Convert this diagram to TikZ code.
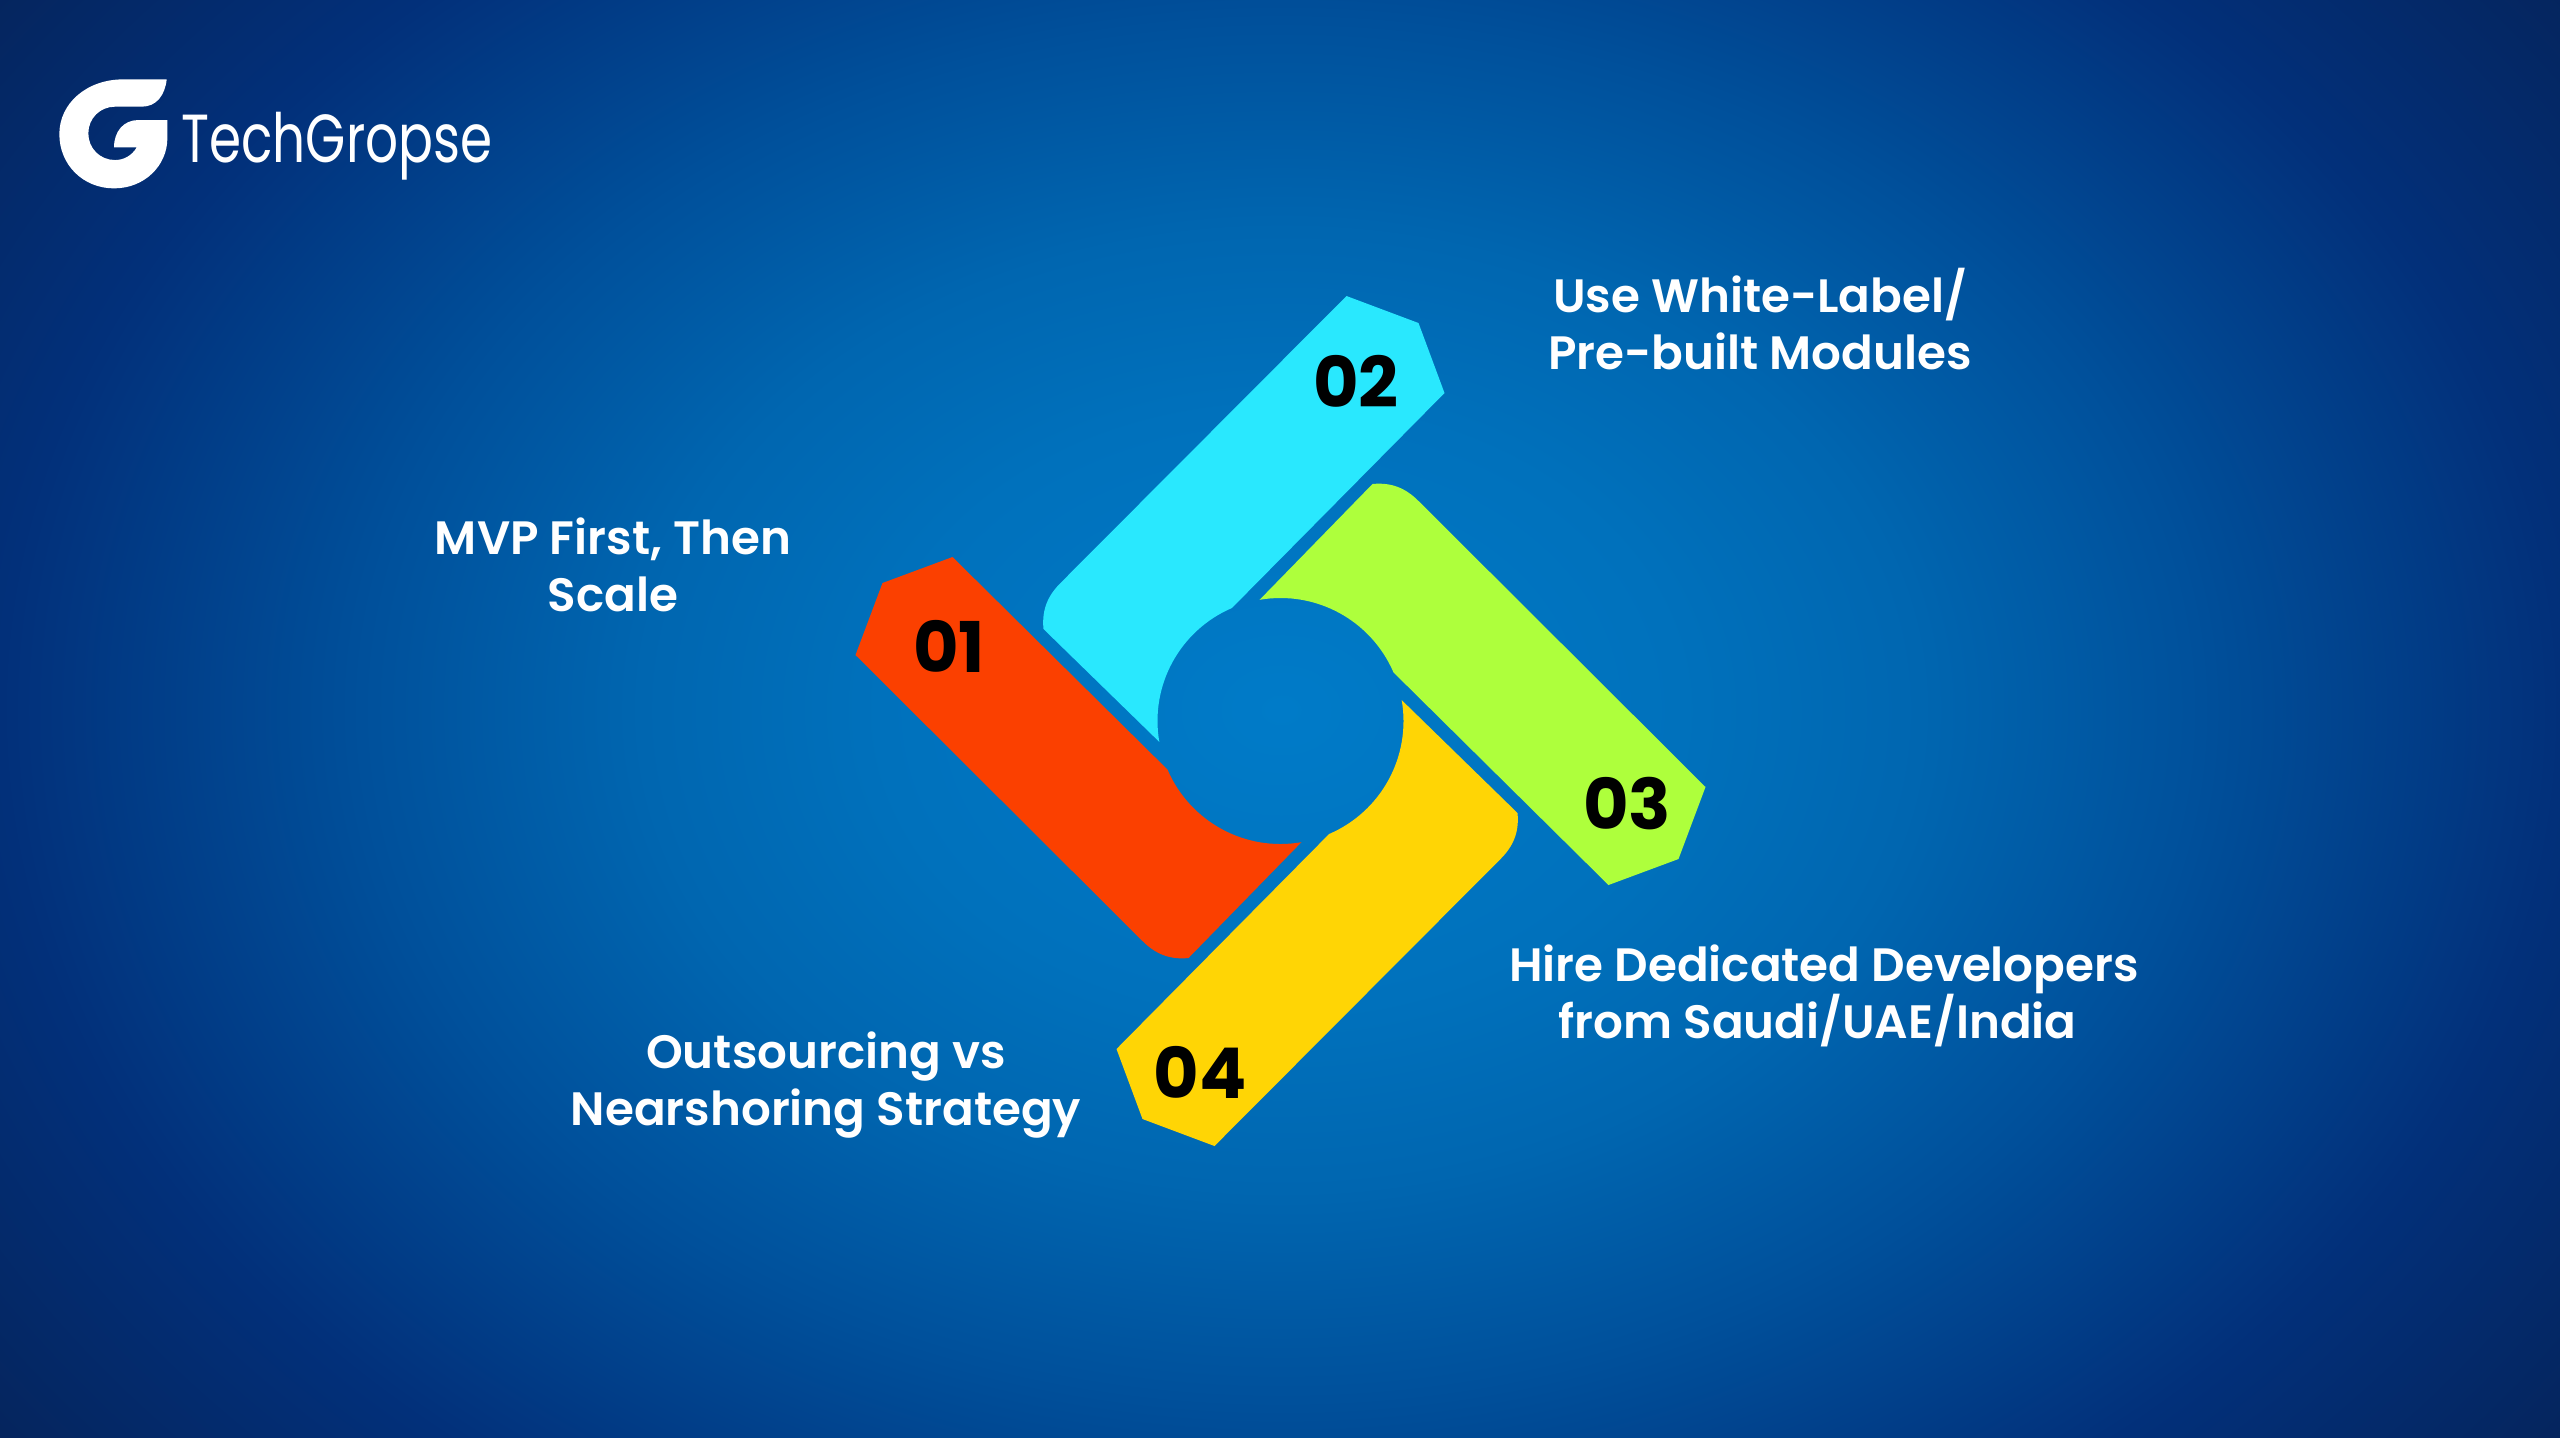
\documentclass[tikz,border=0pt]{standalone}
\usepackage{fontspec}
\setmainfont{Poppins}[UprightFont=* SemiBold,BoldFont=* Bold]
\newfontfamily\logofont{Poppins}[UprightFont=*,FakeStretch=0.76]
\definecolor{c0}{HTML}{007BC8}
\definecolor{c1}{HTML}{0071BC}
\definecolor{c2}{HTML}{0066B0}
\definecolor{c3}{HTML}{00509B}
\definecolor{c4}{HTML}{02307A}
\definecolor{c5}{HTML}{05255E}
\pgfdeclareradialshading{bgglow}{\pgfpointorigin}{
  color(0bp)=(c0); color(5bp)=(c1); color(8bp)=(c2); color(11.5bp)=(c3); color(16bp)=(c4); color(20bp)=(c5); color(50bp)=(c5)}
\definecolor{petcyan}{HTML}{29E8FE}
\definecolor{petred}{HTML}{FB4000}
\definecolor{petgreen}{HTML}{AEFF3C}
\definecolor{petyellow}{HTML}{FFD505}
\tikzset{
  lab/.style={text=white,font=\fontsize{23.4}{28.5}\selectfont,align=center,inner sep=0pt},
  num/.style={text=black,font=\bfseries\fontsize{35}{35}\selectfont,inner sep=0pt},
}
\newcommand{\petal}[2]{%
  \fill[#2,shift={(1280.5,721)},rotate=#1]
    (66,-425) -- (138,-398) -- (164,-328) -- (-48.6,-113)
    .. controls (-100.9,-90.5) and (-130.9,-35.2) .. (-121.2,20.9)
    -- (-237,-92) .. controls (-239,-112) and (-232,-126) .. (-220,-138) -- cycle;}
\begin{document}
\begin{tikzpicture}[x=0.5pt,y=-0.5pt]
\useasboundingbox (0,0) rectangle (2560,1437);
\begin{scope}
\clip (0,0) rectangle (2560,1437);
\shade[shading=bgglow] (1281,710) ellipse [x radius=2000,y radius=1500];
\end{scope}
\petal{0}{petcyan}
\petal{90}{petred}
\petal{-90}{petgreen}
\petal{180}{petyellow}
\node[num] (n1) at (949,646) {01};
\node[num] (n2) at (1356,381) {02};
\node[num] (n3) at (1627,804) {03};
\node[num] (n4) at (1200,1072) {04};
\node[lab] (t1) at (613,565) {MVP First, Then\\Scale};
\node[lab] (t2) at (1760,319) {Use White-Label/\\Pre-built Modules};
\node[lab] (t3) at (1824,996) {Hire Dedicated Developers\\from Saudi/UAE/India\hspace*{6.5pt}};
\node[lab] (t4) at (826,1085) {Outsourcing vs\\Nearshoring Strategy};
% logo mark
\fill[white,shift={(40,60)},x=0.1667pt,y=-0.1667pt]
  (380,58) -- (250,58) .. controls (140,58) and (58,130) .. (58,222)
  .. controls (58,315) and (130,385) .. (222,385)
  .. controls (315,385) and (382,315) .. (382,235) -- (382,180) -- (295,180)
  .. controls (250,180) and (222,215) .. (222,262) -- (290,262)
  .. controls (275,288) and (250,300) .. (225,300)
  .. controls (180,300) and (145,265) .. (145,220)
  .. controls (145,175) and (180,140) .. (225,140) -- (305,140)
  .. controls (350,140) and (375,105) .. (380,58) -- cycle;
\node[text=white,font=\logofont\fontsize{34}{34}\selectfont,inner sep=0pt,anchor=west] (logo) at (181,146) {TechGropse};
\end{tikzpicture}
\end{document}
